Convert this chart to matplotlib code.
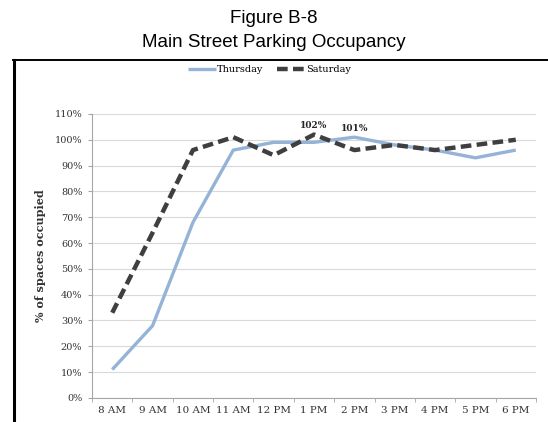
import numpy as np
import matplotlib
matplotlib.use('Agg')
import matplotlib.pyplot as plt
from matplotlib.lines import Line2D

hours = ['8 AM', '9 AM', '10 AM', '11 AM', '12 PM', '1 PM', '2 PM',
         '3 PM', '4 PM', '5 PM', '6 PM']
thursday = [11, 28, 68, 96, 99, 99, 101, 98, 96, 93, 96]
saturday = [33, 64, 96, 101, 94, 102, 96, 98, 96, 98, 100]
yticks = list(range(0, 111, 10))

serif = 'DejaVu Serif'

fig = plt.figure(figsize=(5.48, 4.22), dpi=100)
ax = fig.add_axes([0.168, 0.057, 0.810, 0.673])

x = np.arange(len(hours))
ax.plot(x, thursday, color='#95B3D7', lw=2.4, label='Thursday', solid_capstyle='butt')
ax.plot(x, saturday, color='#3F3F3F', lw=3.2, dashes=(2.4, 1.2), label='Saturday')

# data labels
i = hours.index('1 PM')
ax.annotate('%d%%' % saturday[i], (x[i], saturday[i]), xytext=(0, 3),
            textcoords='offset points', ha='center', va='bottom',
            fontsize=6.5, fontweight='bold', family=serif, color='#262626')
i = hours.index('2 PM')
ax.annotate('%d%%' % thursday[i], (x[i], thursday[i]), xytext=(0, 3),
            textcoords='offset points', ha='center', va='bottom',
            fontsize=6.5, fontweight='bold', family=serif, color='#262626')

ax.set_xlim(-0.5, len(hours) - 0.5)
ax.set_ylim(0, 110)
ax.set_yticks(yticks)
ax.set_yticklabels(['%d%%' % v for v in yticks], family=serif, fontsize=7,
                   color='#333333')
ax.set_xticks(x)
ax.set_xticklabels(hours, family=serif, fontsize=7.5, color='#333333')
ax.set_xticks(np.arange(-0.5, len(hours)), minor=True)
ax.tick_params(axis='x', which='major', length=0, pad=6)
ax.tick_params(axis='x', which='minor', length=3, color='#A6A6A6', direction='out')
ax.tick_params(axis='y', length=3, color='#A6A6A6', pad=4)

ax.grid(axis='y', color='#D9D9D9', lw=0.8)
ax.set_axisbelow(True)
for s in ['top', 'right']:
    ax.spines[s].set_visible(False)
ax.spines['left'].set_color('#A6A6A6')
ax.spines['bottom'].set_color('#A6A6A6')

ax.set_ylabel('% of spaces occupied', family=serif, fontsize=8,
              fontweight='bold', color='#333333', labelpad=6)

ax.legend(loc='center', bbox_to_anchor=(0.40, 1.155), ncol=2, frameon=False,
          prop={'family': serif, 'size': 7}, handlelength=2.9,
          columnspacing=1.4, handletextpad=0.1)

fig.text(0.5, 0.957, 'Figure B-8', ha='center', va='center',
         family='Liberation Sans', fontsize=13.5)
fig.text(0.5, 0.900, 'Main Street Parking Occupancy', ha='center', va='center',
         family='Liberation Sans', fontsize=13.5)

# outer box of the chart
fig.add_artist(Line2D([14 / 548, 14 / 548], [0, 1 - 60 / 422], color='black', lw=2.2))
fig.add_artist(Line2D([13 / 548, 1], [1 - 60 / 422, 1 - 60 / 422], color='black', lw=1.4))

fig.savefig('out.png', dpi=100)
